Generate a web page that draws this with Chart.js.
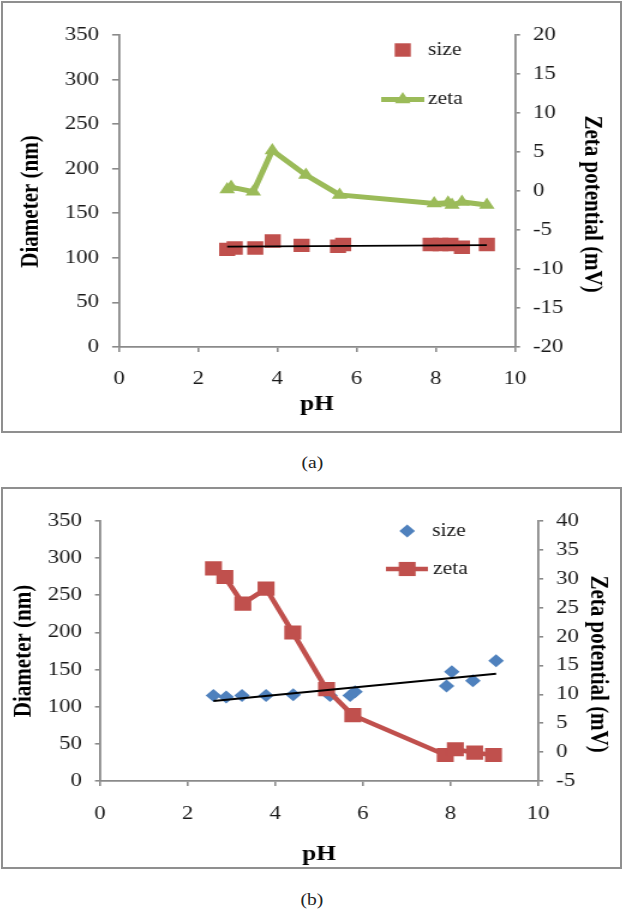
<!DOCTYPE html>
<html>
<head>
<meta charset="utf-8">
<script src="https://cdn.jsdelivr.net/npm/chart.js@4.4.1/dist/chart.umd.min.js"></script>
<style>
  html, body { margin: 0; padding: 0; background: #fff; }
  body { width: 624px; height: 909px; position: relative; overflow: hidden;
         font-family: "Liberation Serif", "Times New Roman", serif; }
  .panel { position: absolute; left: 1px; width: 621px; box-sizing: border-box;
           border: 2px solid #8f8f8f; background: #fff; overflow: hidden; }
  #boxA { top: 1px; height: 432px; }
  #boxB { top: 487px; height: 382px; }
  /* the source figure is stretched sideways, so draw narrow and widen */
  .stretch { position: absolute; left: 0; top: 0; width: 514px;
             transform: scaleX(1.2004); transform-origin: 0 0; }
  #boxA .stretch { height: 428px; }
  #boxB .stretch { height: 378px; }
  .cap { position: absolute; left: 0; width: 624px; text-align: center;
         font-size: 17px; line-height: 22px; color: #222; }
  .cap span { display: inline-block; transform: scaleX(1.15); }
</style>
</head>
<body>
<div class="panel" id="boxA"><div class="stretch"><canvas id="chartA"></canvas></div></div>
<div class="cap" style="top:452px"><span>(a)</span></div>
<div class="panel" id="boxB"><div class="stretch"><canvas id="chartB"></canvas></div></div>
<div class="cap" style="top:889px"><span>(b)</span></div>

<script>
/* ---------- data ---------- */
// panel (a)
const A_SIZE_PH  = [2.73, 2.92, 3.44, 3.88, 4.61, 5.53, 5.66, 7.87, 8.12, 8.37, 8.66, 9.29];
const A_SIZE_NM  = [109.5, 111, 111, 119, 114, 113, 115, 115, 115, 115, 112, 115];
const A_ZETA_PH  = [2.73, 2.83, 3.39, 3.87, 4.72, 5.57, 7.96, 8.31, 8.41, 8.66, 9.29];
const A_ZETA_MV  = [0.2, 0.5, -0.1, 5.2, 2.05, -0.5, -1.6, -1.5, -1.8, -1.4, -1.8];
const A_TREND_PH = [2.73, 9.29];
const A_TREND_NM = [112.5, 114.3];

// panel (b)
const B_SIZE_PH  = [2.59, 2.88, 3.24, 3.79, 4.41, 5.25, 5.71, 5.82, 7.91, 8.03, 8.51, 9.04];
const B_SIZE_NM  = [115, 113, 115, 115, 116, 115, 115, 120, 128, 147, 135, 162];
const B_ZETA_PH  = [2.59, 2.85, 3.26, 3.79, 4.40, 5.17, 5.77, 7.88, 8.11, 8.55, 8.98];
const B_ZETA_MV  = [31.8, 30.3, 25.7, 28.3, 20.7, 10.9, 6.4, -0.5, 0.5, -0.1, -0.5];
const B_TREND_PH = [2.59, 9.04];
const B_TREND_NM = [107.7, 144.4];

const PH_RANGE   = [0, 10, 2];
const DIAM_RANGE = [0, 350, 50];
const ZETA_A_RANGE = [-20, 20, 5];
const ZETA_B_RANGE = [-5, 40, 5];

const COLORS = {
  red: '#c0504d',
  green: '#9bbb59',
  blue: '#4f81bd',
  axis: '#8a8a8a',
  ink: '#1a1a1a',
};
const SERIF = '"Liberation Serif", "Times New Roman", serif';

const pts = (xs, ys) => xs.map((x, i) => ({ x, y: ys[i] }));

/* legend drawn inside the plot, where Excel put it */
const cornerLegend = {
  id: 'cornerLegend',
  afterDraw(chart, args, opts) {
    const ctx = chart.ctx;
    ctx.save();
    (opts.items || []).forEach(it => {
      const ds = chart.data.datasets[it.dataset];
      if (it.line) {
        ctx.strokeStyle = ds.borderColor;
        ctx.lineWidth = ds.borderWidth;
        ctx.beginPath();
        ctx.moveTo(it.line[0], it.y);
        ctx.lineTo(it.line[1], it.y);
        ctx.stroke();
      }
      ctx.fillStyle = ds.pointBackgroundColor;
      Chart.helpers.drawPoint(ctx, {
        pointStyle: ds.pointStyle, radius: ds.pointRadius, borderWidth: 0, rotation: 0
      }, it.x, it.y);
      ctx.fillStyle = COLORS.ink;
      ctx.font = `${opts.fontSize}px ${SERIF}`;
      ctx.textBaseline = 'middle';
      ctx.textAlign = 'left';
      ctx.fillText(it.label, it.tx, it.y);
    });
    ctx.restore();
  }
};

function axis(range, o) {
  return {
    type: 'linear',
    position: o.position,
    min: range[0], max: range[1],
    ticks: { stepSize: range[2], padding: o.pad, color: COLORS.ink,
             font: { family: SERIF, size: 19 } },
    grid: { drawOnChartArea: false, drawTicks: true, tickLength: o.tick,
            color: COLORS.axis, lineWidth: 1.6 },
    border: { color: COLORS.axis, width: 1.8 },
    title: { display: true, text: o.title, color: '#000',
             font: { family: SERIF, size: 21, weight: 'bold' }, padding: o.titlePad },
    afterFit: s => { if (s.isHorizontal()) s.height = o.size; else s.width = o.size; }
  };
}

function makeChart(id, p) {
  new Chart(document.getElementById(id), {
    type: 'scatter',
    data: { datasets: p.datasets },
    options: {
      responsive: true,
      maintainAspectRatio: false,
      animation: false,
      events: [],
      layout: { padding: { top: 32, left: 0, right: 0, bottom: 0 } },
      plugins: {
        legend: { display: false },
        tooltip: { enabled: false },
        cornerLegend: { items: p.legend, fontSize: 18 }
      },
      scales: {
        x: axis(PH_RANGE, p.x),
        y: axis(DIAM_RANGE, p.y),
        y2: axis(p.zetaRange, p.y2)
      }
    },
    plugins: [cornerLegend]
  });
}

/* ---------- panel (a) ---------- */
makeChart('chartA', {
  zetaRange: ZETA_A_RANGE,
  datasets: [
    { label: 'size', data: pts(A_SIZE_PH, A_SIZE_NM), yAxisID: 'y', order: 1,
      pointStyle: 'rect', pointRadius: 9.5, pointBackgroundColor: COLORS.red,
      pointBorderWidth: 0, showLine: false },
    { label: 'zeta', data: pts(A_ZETA_PH, A_ZETA_MV), yAxisID: 'y2', order: 2,
      pointStyle: 'triangle', pointRadius: 7.5, pointBackgroundColor: COLORS.green,
      pointBorderWidth: 0, showLine: true, borderColor: COLORS.green, borderWidth: 5 },
    { label: 'trend', data: pts(A_TREND_PH, A_TREND_NM), yAxisID: 'y', order: 0,
      pointRadius: 0, showLine: true, borderColor: '#000', borderWidth: 1.8 }
  ],
  legend: [
    { dataset: 0, x: 333, y: 47, tx: 354, label: 'size' },
    { dataset: 1, x: 333, y: 96.5, tx: 354, label: 'zeta', line: [315, 351] }
  ],
  x:  { position: 'bottom', pad: 15.6, tick: 5, size: 84, title: 'pH',
        titlePad: { top: 0, bottom: 14 } },
  y:  { position: 'left', pad: 10.9, tick: 5.8, size: 96.7, title: 'Diameter (nm)    ',
        titlePad: { top: 10.7, bottom: 0 } },
  y2: { position: 'right', pad: 10.8, tick: 4.2, size: 87.5, title: '     Zeta potential (mV)',
        titlePad: { top: 10.6, bottom: 0 } }
});

/* ---------- panel (b) ---------- */
makeChart('chartB', {
  zetaRange: ZETA_B_RANGE,
  datasets: [
    { label: 'size', data: pts(B_SIZE_PH, B_SIZE_NM), yAxisID: 'y', order: 2,
      pointStyle: 'rectRot', pointRadius: 6.5, pointBackgroundColor: COLORS.blue,
      pointBorderWidth: 0, showLine: false },
    { label: 'zeta', data: pts(B_ZETA_PH, B_ZETA_MV), yAxisID: 'y2', order: 1,
      pointStyle: 'rect', pointRadius: 10, pointBackgroundColor: COLORS.red,
      pointBorderWidth: 0, showLine: true, borderColor: COLORS.red, borderWidth: 4.5 },
    { label: 'trend', data: pts(B_TREND_PH, B_TREND_NM), yAxisID: 'y', order: 0,
      pointRadius: 0, showLine: true, borderColor: '#000', borderWidth: 1.8 }
  ],
  legend: [
    { dataset: 0, x: 336.7, y: 42, tx: 357.5, label: 'size' },
    { dataset: 1, x: 336.7, y: 80, tx: 358.3, label: 'zeta', line: [319, 354] }
  ],
  x:  { position: 'bottom', pad: 16.6, tick: 5, size: 86, title: 'pH',
        titlePad: { top: 0, bottom: 0 } },
  y:  { position: 'left', pad: 10.8, tick: 4.2, size: 80.8, title: 'Diameter (nm)',
        titlePad: { top: 4.9, bottom: 0 } },
  y2: { position: 'right', pad: 10.8, tick: 4.2, size: 68.2, title: '     Zeta potential (mV)',
        titlePad: { top: 5.6, bottom: 0 } }
});
</script>
</body>
</html>
